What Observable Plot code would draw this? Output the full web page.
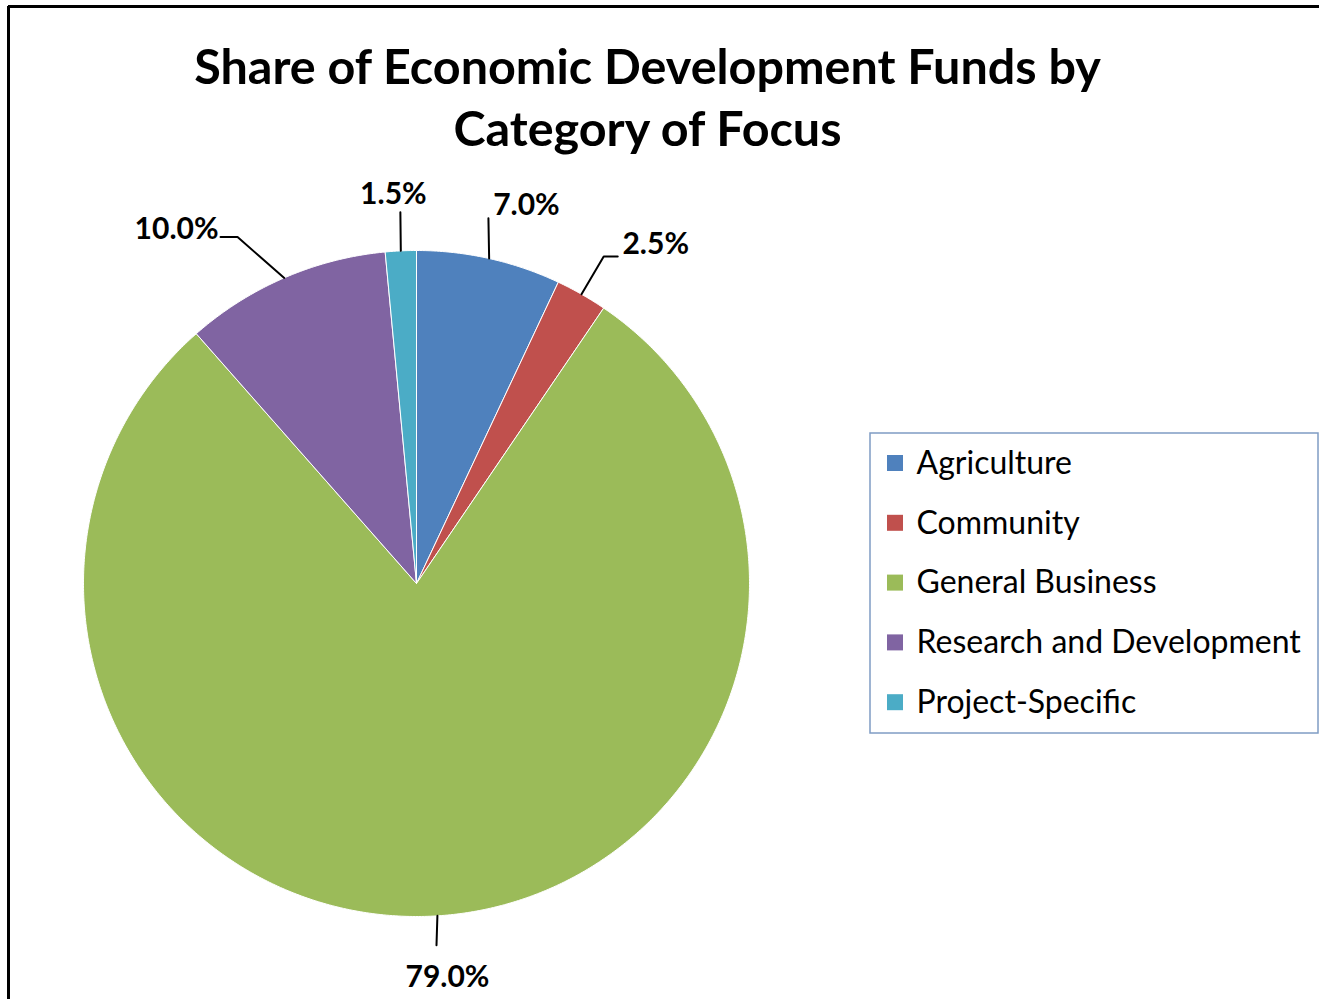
<!DOCTYPE html>
<html>
<head>
<meta charset="utf-8">
<script src="https://cdn.jsdelivr.net/npm/d3@7"></script>
<script src="https://cdn.jsdelivr.net/npm/@observablehq/plot@0.6"></script>
<style>
  html, body { margin: 0; padding: 0; background: #fff; }
  #chart svg { display: block; }
</style>
</head>
<body>
<div id="chart"></div>
<script>
// ---- Data ----
const categories = ["Agriculture", "Community", "General Business", "Research and Development", "Project-Specific"];
const shares = [7.0, 2.5, 79.0, 10.0, 1.5];
const labels = ["7.0%", "2.5%", "79.0%", "10.0%", "1.5%"];
const colors = ["#4f81bd", "#c0504d", "#9bbb59", "#8064a2", "#4bacc6"];
const titleLines = ["Share of Economic Development Funds by", "Category of Focus"];

// ---- Layout ----
const W = 1319, H = 999;
const cx = 416, cy = 583, R = 333;
const FONT = "Lato, 'Open Sans', 'DejaVu Sans', sans-serif";
// label placement (polar angle clockwise from top, distance) + leader waypoints relative to label centre
const labelLayout = {
  "Agriculture": {ang: 16.2, dist: 394, leader: [[-38, 13]]},
  "Community": {ang: 35.2, dist: 415, leader: [[-38, 12], [-52, 12]]},
  "General Business": {ang: 175.5, dist: 395, leader: [[-11, -32]]},
  "Research and Development": {ang: 325.9, dist: 428, leader: [[44, 8], [61, 8]]},
  "Project-Specific": {ang: 356.6, dist: 390, leader: [[7, 18]]}
};

const rows = categories.map((c, i) => ({category: c, share: shares[i], label: labels[i]}));
const arcs = d3.pie().sort(null).value(d => d.share)(rows);
const pt = (a, r) => [cx + r * Math.sin(a), cy - r * Math.cos(a)];

// slice polygons
const slicePts = [];
arcs.forEach(a => {
  slicePts.push({category: a.data.category, x: cx, y: cy});
  const n = Math.max(2, Math.ceil((a.endAngle - a.startAngle) / (Math.PI / 360)));
  for (let k = 0; k <= n; k++) {
    const t = a.startAngle + (a.endAngle - a.startAngle) * k / n;
    const [x, y] = pt(t, R);
    slicePts.push({category: a.data.category, x, y});
  }
  slicePts.push({category: a.data.category, x: cx, y: cy});
});

// labels and leaders
const labelPts = arcs.map(a => {
  const L = labelLayout[a.data.category];
  const [x, y] = pt(L.ang * Math.PI / 180, L.dist);
  return {category: a.data.category, label: a.data.label, x, y};
});
const leaderPts = [];
arcs.forEach((a, i) => {
  const L = labelLayout[a.data.category];
  const mid = (a.startAngle + a.endAngle) / 2;
  const [ex, ey] = pt(mid, R);
  leaderPts.push({category: a.data.category, x: ex, y: ey});
  L.leader.slice().reverse().forEach(([dx, dy]) => leaderPts.push({category: a.data.category, x: labelPts[i].x + dx, y: labelPts[i].y + dy}));
});

// legend
const legendRows = categories.map((c, i) => ({category: c, i}));
const legY = i => 463 + i * 59.8;

const chart = Plot.plot({
  width: W, height: H,
  margin: 0,
  x: {domain: [0, W], range: [0, W], axis: null},
  y: {domain: [0, H], range: [0, H], axis: null},
  color: {domain: categories, range: colors},
  style: {fontFamily: FONT, background: "#fff"},
  marks: [
    // outer frame (top & left edges)
    Plot.ruleY([6], {x1: 8, x2: W, stroke: "#000", strokeWidth: 3}),
    Plot.ruleX([8], {y1: 6, y2: H, stroke: "#000", strokeWidth: 3}),
    // title
    Plot.text(titleLines, {x: [647, 647], y: [68, 130], text: d => d, fontSize: 48.5, fontWeight: "bold", fill: "#000", textAnchor: "middle"}),
    // pie slices
    Plot.line(slicePts, {x: "x", y: "y", z: "category", fill: "category", stroke: "#fff", strokeWidth: 1, curve: "linear"}),
    // leader lines
    Plot.line(leaderPts, {x: "x", y: "y", z: "category", stroke: "#000", strokeWidth: 2}),
    // data labels
    Plot.text(labelPts, {x: "x", y: "y", text: "label", fontSize: 30, fontWeight: "bold", fill: "#000", textAnchor: "middle"}),
    // legend box
    Plot.rect([0], {x1: 870, x2: 1318, y1: 433, y2: 733, fill: "#fff", stroke: "#7f9cc4", strokeWidth: 1.5}),
    Plot.rect(legendRows, {x1: 887, x2: 903, y1: d => legY(d.i) - 8, y2: d => legY(d.i) + 8, fill: "category"}),
    Plot.text(legendRows, {x: 916, y: d => legY(d.i), text: "category", fontSize: 32, fill: "#000", textAnchor: "start"})
  ]
});
document.getElementById("chart").appendChild(chart);
</script>
</body>
</html>
